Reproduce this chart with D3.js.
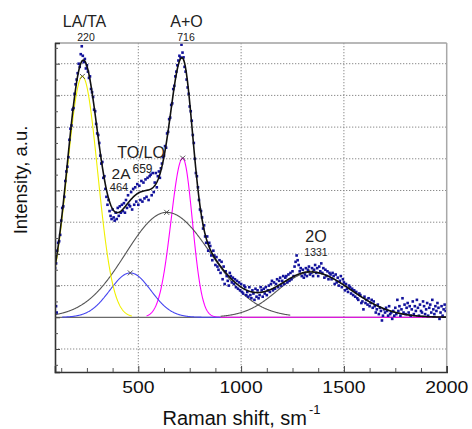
<!DOCTYPE html>
<html><head><meta charset="utf-8">
<script src="https://cdn.jsdelivr.net/npm/d3@7"></script>
<style>body{margin:0;background:#fff}svg{display:block}</style>
</head><body>
<svg id="c" width="472" height="429"></svg>
<script>
// ---- data ----
const xDomain = [94.8, 2000];
const yDomain = [-1.726, 8.653];
const xMajorTicks = [500, 1000, 1500, 2000];
const xMinorTicks = [125, 250, 375, 625, 750, 875, 1125, 1250, 1375, 1625, 1750, 1875];
const yGridValues = [-1, 1, 2, 3, 4, 5, 6, 7, 8];
const yMinorTicks = [-1.5, -0.5, 0.5, 1.5, 2.5, 3.5, 4.5, 5.5, 6.5, 7.5, 8.5];

// fitted Gaussian components
const componentNames   = ["LA/TA", "2A", "TO/LO", "A+O", "2O"];
const componentCenters = [228, 461, 638, 716, 1340];
const componentHeights = [7.6, 1.4, 3.31, 5.02, 1.42];
const componentSigmaL  = [74, 100, 200, 57, 160];
const componentSigmaR  = [74, 100, 215, 47, 195];
const componentFrom    = [95, 130, 95, 540, 900];
const componentTo      = [470, 900, 1240, 2000, 2000];

// peak annotations
const peakNames    = ["LA/TA", "A+O", "TO/LO", "2A", "2O"];
const peakNumbers  = ["220", "716", "659", "464", "1331"];

// measured spectrum [Raman shift, intensity]
const spectrum = [
[95,1.55],[100,1.70],[100,0.35],[103,0.15],[105,2.10],[110,2.35],[115,2.40],[120,2.60],[125,3.05],[130,3.45],[135,3.50],
[140,3.80],[145,4.30],[150,4.60],[155,4.75],[160,5.05],[165,5.60],[170,5.95],[175,6.05],[180,6.55],[185,6.60],
[190,7.05],[195,7.35],[200,7.50],[205,7.70],[210,8.00],[215,7.90],[220,8.30],[225,8.55],[230,8.25],[235,8.05],
[240,8.15],[245,7.85],[250,7.95],[255,7.75],[260,7.55],[265,7.60],[270,7.20],[275,7.10],[280,6.95],[285,6.55],
[290,6.50],[295,6.10],[300,5.80],[305,5.75],[310,5.50],[315,5.10],[320,4.85],[325,4.90],[330,4.40],[335,4.45],
[340,4.05],[345,3.80],[350,3.55],[355,3.70],[360,3.35],[365,3.20],[370,3.10],[375,3.40],[380,3.15],[385,3.05],
[390,3.30],[395,3.10],[400,3.45],[405,3.20],[410,3.50],[415,3.30],[420,3.55],[425,3.35],[430,3.60],[435,3.30],
[440,3.70],[445,3.45],[450,3.85],[455,3.55],[460,3.50],[465,3.95],[470,3.40],[475,4.05],[480,3.55],[485,4.10],
[490,3.65],[495,4.20],[500,3.55],[505,4.15],[510,3.70],[515,4.30],[520,3.65],[525,4.25],[530,3.75],[535,4.35],
[540,3.80],[545,4.40],[550,3.70],[555,4.45],[560,4.50],[565,3.85],[570,4.55],[575,3.95],[580,4.25],[585,4.55],
[590,4.10],[595,4.45],[600,4.60],[605,4.40],[610,4.70],[615,4.85],[620,5.05],[625,5.10],[630,5.40],[635,5.35],
[640,5.80],[645,5.85],[650,6.25],[655,6.30],[660,6.70],[665,6.75],[670,7.20],[675,7.30],[680,7.60],[685,7.75],
[690,7.95],[695,8.10],[700,8.25],[705,8.20],[710,8.60],[715,8.35],[720,8.20],[725,7.90],[730,7.75],[735,7.50],
[740,7.25],[745,7.05],[750,6.65],[755,6.50],[760,6.20],[765,5.75],[770,5.50],[775,5.00],[780,4.55],[785,4.45],
[790,4.10],[795,3.70],[800,3.40],[805,3.35],[810,3.15],[815,2.80],[820,2.90],[825,2.55],[830,2.35],[835,2.55],
[840,2.10],[845,2.35],[850,2.25],[855,1.95],[860,1.80],[865,2.10],[870,1.95],[875,1.65],[880,1.90],[885,1.60],
[890,1.50],[895,1.80],[900,1.40],[905,1.75],[910,1.20],[915,1.60],[920,1.05],[925,1.45],[930,1.30],[935,1.15],
[940,1.00],[945,1.40],[950,1.30],[955,1.10],[960,1.25],[965,1.05],[970,1.20],[975,0.95],[980,1.15],[985,0.90],
[990,1.10],[995,0.85],[1000,1.05],[1005,0.80],[1010,0.75],[1015,1.00],[1020,0.95],[1025,0.70],[1030,0.80],[1035,0.65],
[1040,0.95],[1045,0.70],[1050,0.60],[1055,0.85],[1060,0.75],[1065,0.55],[1070,0.90],[1075,0.65],[1080,0.85],[1085,0.60],
[1090,0.70],[1095,0.95],[1100,0.85],[1105,0.65],[1110,0.90],[1115,0.75],[1120,0.95],[1125,0.70],[1130,0.85],[1135,1.00],
[1140,0.80],[1145,1.05],[1150,1.15],[1155,0.85],[1160,1.10],[1165,0.90],[1170,1.05],[1175,1.20],[1180,0.95],[1185,1.15],
[1190,1.25],[1195,1.00],[1200,1.15],[1205,1.30],[1210,1.05],[1215,1.25],[1220,1.30],[1225,1.10],[1230,1.35],[1235,1.15],
[1240,1.40],[1245,1.20],[1250,1.45],[1255,1.30],[1260,1.60],[1265,1.75],[1270,1.95],[1275,1.80],[1280,1.65],[1285,1.45],
[1290,1.55],[1295,1.30],[1300,1.50],[1305,1.25],[1310,1.35],[1315,1.55],[1320,1.30],[1325,1.50],[1330,1.60],[1335,1.35],
[1340,1.40],[1345,1.55],[1350,1.30],[1355,1.50],[1360,1.65],[1365,1.40],[1370,1.55],[1375,1.30],[1380,1.60],[1385,1.45],
[1390,1.70],[1395,1.40],[1400,1.55],[1405,1.25],[1410,1.50],[1415,1.30],[1420,1.45],[1425,1.20],[1430,1.40],[1435,1.35],
[1440,1.20],[1445,1.40],[1450,1.30],[1455,1.05],[1460,1.35],[1465,1.10],[1470,1.25],[1475,1.00],[1480,1.15],[1485,1.30],
[1490,0.95],[1495,1.20],[1500,1.10],[1505,0.85],[1510,1.05],[1515,0.90],[1520,0.80],[1525,1.00],[1530,0.95],[1535,0.75],
[1540,0.90],[1545,0.70],[1550,0.85],[1555,0.65],[1560,0.80],[1565,0.60],[1570,0.55],[1575,0.75],[1580,0.70],[1585,0.45],
[1590,0.50],[1595,0.25],[1600,0.65],[1605,0.45],[1610,0.55],[1615,0.40],[1620,0.60],[1625,0.35],[1630,0.45],[1635,0.55],
[1640,0.30],[1645,0.50],[1650,0.35],[1655,0.15],[1660,0.25],[1665,0.40],[1670,0.10],[1675,0.30],[1680,0.20],[1685,-0.10],
[1690,0.05],[1695,0.25],[1700,0.15],[1705,0.30],[1710,0.20],[1715,0.05],[1720,0.35],[1725,0.10],[1730,0.15],[1735,-0.05],
[1740,0.20],[1745,0.05],[1750,0.30],[1755,0.10],[1760,0.55],[1765,0.20],[1770,0.35],[1775,0.05],[1780,0.25],[1785,0.60],
[1790,0.15],[1795,0.40],[1800,0.10],[1805,0.30],[1810,0.45],[1815,0.15],[1820,0.35],[1825,0.05],[1830,0.25],[1835,0.50],
[1840,0.10],[1845,0.35],[1850,0.20],[1855,0.55],[1860,0.30],[1865,0.05],[1870,0.40],[1875,0.20],[1880,0.15],[1885,0.50],
[1890,0.35],[1895,0.10],[1900,0.25],[1905,0.45],[1910,0.05],[1915,0.30],[1920,0.40],[1925,0.15],[1930,0.55],[1935,0.25],
[1940,0.10],[1945,0.35],[1950,0.20],[1955,0.45],[1960,0.30],[1965,-0.05],[1970,0.15],[1975,0.35],[1980,0.05],[1985,0.25],
[1990,0.40],[1995,0.20],[2000,0.30]
];

// ---- drawing ----
const svg = d3.select("#c");
const L = 55, R = 446.7, T = 43, B = 372;
const x = d3.scaleLinear().domain(xDomain).range([L, R]);
const y = d3.scaleLinear().domain(yDomain).range([B, T]);

const comp = (i, v) => {
  const d = v - componentCenters[i];
  const s = d < 0 ? componentSigmaL[i] : componentSigmaR[i];
  return componentHeights[i] * Math.exp(-d * d / (2 * s * s));
};
const total = v => componentNames.reduce((a, _, i) => a + comp(i, v), 0);

svg.append("defs").append("clipPath").attr("id", "clip")
  .append("rect").attr("x", L).attr("y", T).attr("width", R - L).attr("height", B - T);

const plot = svg.append("g").attr("clip-path", "url(#clip)");

// grid
const gridStyle = s => s.attr("stroke", "#8a8a8a").attr("stroke-width", 1).attr("stroke-dasharray", "1.3,1.7");
plot.selectAll(".hg").data(yGridValues).join("line")
  .attr("x1", L).attr("x2", R).attr("y1", d => y(d)).attr("y2", d => y(d)).call(gridStyle);
plot.selectAll(".vg").data(xMajorTicks).join("line")
  .attr("x1", d => x(d)).attr("x2", d => x(d)).attr("y1", T).attr("y2", B).call(gridStyle);

// zero line
plot.append("line").attr("x1", L).attr("x2", R).attr("y1", y(0)).attr("y2", y(0))
  .attr("stroke", "#6a6a6a").attr("stroke-width", 1.2);

const line = d3.line().x(d => x(d[0])).y(d => y(d[1])).curve(d3.curveLinear);
const sample = (a, b) => d3.range(a, b + 0.1, 2);

// components (draw order: magenta, blue, gray, gray, yellow)
const componentColors = ["#f0f000", "#4646f0", "#555555", "#ff00ff", "#555555"];
[3, 1, 2, 4, 0].forEach(i => {
  plot.append("path")
    .datum(sample(componentFrom[i], componentTo[i]).map(v => [v, comp(i, v)]))
    .attr("d", line).attr("fill", "none")
    .attr("stroke", componentColors[i]).attr("stroke-width", 1.1);
});

// measured points
plot.selectAll(".pt").data(spectrum).join("rect")
  .attr("x", d => x(d[0]) - 1.3).attr("y", d => y(d[1]) - 1.3)
  .attr("width", 2.6).attr("height", 2.6).attr("fill", "#12129c");

// total fit
plot.append("path").datum(sample(95, 2000).map(v => [v, total(v)]))
  .attr("d", line).attr("fill", "none").attr("stroke", "#111").attr("stroke-width", 1.6);

// peak markers
const markerPts = [0, 1, 2, 3].map(i => [componentCenters[i], componentHeights[i]]);
markerPts.push([componentCenters[4], total(componentCenters[4])]);
markerPts.forEach(p => {
  const cx = x(p[0]), cy = y(p[1]), s = 2.5;
  plot.append("path").attr("d", `M${cx - s},${cy - s}L${cx + s},${cy + s}M${cx - s},${cy + s}L${cx + s},${cy - s}`)
    .attr("stroke", "#444").attr("stroke-width", 0.9);
});

// frame
svg.append("line").attr("x1", L).attr("x2", R).attr("y1", T).attr("y2", T).attr("stroke", "#a0a0a0").attr("stroke-width", 1.5);
svg.append("line").attr("x1", R).attr("x2", R).attr("y1", T).attr("y2", B).attr("stroke", "#a8a8a8").attr("stroke-width", 1.5);

// axes
const xAxis = svg.append("g").attr("transform", `translate(0,${B})`)
  .call(d3.axisBottom(x).tickValues(xMajorTicks).tickSize(-6).tickPadding(0).tickFormat(""));
xAxis.select(".domain").attr("stroke", "#333").attr("stroke-width", 1.6);
xAxis.selectAll(".tick line").attr("stroke", "#444");
svg.append("g").attr("transform", `translate(0,${B})`)
  .call(d3.axisBottom(x).tickValues(xMinorTicks).tickSize(-4).tickFormat(""))
  .call(g => g.select(".domain").remove())
  .selectAll(".tick line").attr("stroke", "#555");

const yAxis = svg.append("g").attr("transform", `translate(${L},0)`)
  .call(d3.axisLeft(y).tickValues(d3.range(-1, 9)).tickSize(-5).tickFormat(""));
yAxis.select(".domain").attr("stroke", "#333").attr("stroke-width", 1.6);
yAxis.selectAll(".tick line").attr("stroke", "#444");
svg.append("g").attr("transform", `translate(${L},0)`)
  .call(d3.axisLeft(y).tickValues(yMinorTicks).tickSize(-3).tickFormat(""))
  .call(g => g.select(".domain").remove())
  .selectAll(".tick line").attr("stroke", "#555");

// tick labels
const font = "'Liberation Sans', Arial, sans-serif";
xMajorTicks.forEach(t => {
  svg.append("text").attr("transform", `translate(${x(t)},393) scale(1.14,1)`)
    .attr("text-anchor", "middle").attr("font-family", font).attr("font-size", 17)
    .attr("fill", "#111").text(t);
});

// axis titles
const xt = svg.append("text").attr("x", 162.5).attr("y", 425)
  .attr("font-family", font).attr("font-size", 20).attr("fill", "#111");
xt.append("tspan").text("Raman shift, sm");
xt.append("tspan").attr("font-size", 13).attr("dy", -11).attr("dx", 2).text("-1");

svg.append("text").attr("transform", "translate(27,180) rotate(-90)")
  .attr("text-anchor", "middle").attr("font-family", font).attr("font-size", 18.5)
  .attr("fill", "#111").text("Intensity, a.u.");

// peak annotations
const nameStyle = [[84.5, 26.5, 16], [186.5, 26.5, 16], [141, 158, 16], [121, 179, 15.5], [316, 241.5, 16]];
const numStyle  = [[86, 40.5, 10.5], [186, 40.5, 10.5], [142.5, 172.5, 12], [119, 190.5, 11], [316, 256, 10.5]];
peakNames.forEach((n, i) => {
  svg.append("text").attr("x", nameStyle[i][0]).attr("y", nameStyle[i][1])
    .attr("text-anchor", "middle").attr("font-family", font).attr("font-size", nameStyle[i][2])
    .attr("fill", "#222").text(n);
  svg.append("text").attr("x", numStyle[i][0]).attr("y", numStyle[i][1])
    .attr("text-anchor", "middle").attr("font-family", font).attr("font-size", numStyle[i][2])
    .attr("fill", "#222").text(peakNumbers[i]);
});
</script>
</body></html>
